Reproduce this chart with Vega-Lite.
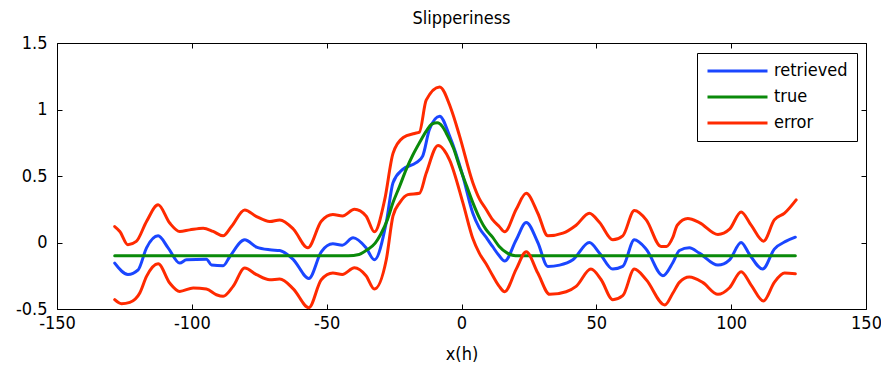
{
"$schema": "https://vega.github.io/schema/vega-lite/v6.json",
"width": 809, "height": 266,
"autosize": {"type": "none"},
"padding": {"left": 57, "top": 43, "right": 15, "bottom": 57},
"background": "white",
"config": {
  "font": "DejaVu Sans Condensed, DejaVu Sans",
  "view": {"stroke": null},
  "axis": {"domainColor": "black", "domainWidth": 1, "tickColor": "black", "tickSize": -5, "tickWidth": 1, "labelColor": "black", "labelFontSize": 18, "labelFont": "DejaVu Sans Condensed, DejaVu Sans", "titleFont": "DejaVu Sans Condensed, DejaVu Sans", "titleFontSize": 18, "titleFontWeight": "normal", "titleColor": "black", "grid": false, "labelFlush": false, "labelExpr": "toString(datum.value)"}
},
"title": {"text": "Slipperiness", "fontSize": 18, "fontWeight": "normal", "color": "black", "font": "DejaVu Sans Condensed, DejaVu Sans", "offset": 6, "anchor": "middle"},
"data": {"values": [
{"series":"retrieved","part":"r","x":-128.6,"y":-0.155},{"series":"retrieved","part":"r","x":-123.7,"y":-0.24},{"series":"retrieved","part":"r","x":-119.9,"y":-0.205},{"series":"retrieved","part":"r","x":-116.8,"y":-0.04},{"series":"retrieved","part":"r","x":-112.5,"y":0.05},{"series":"retrieved","part":"r","x":-108.8,"y":-0.04},{"series":"retrieved","part":"r","x":-104.5,"y":-0.155},{"series":"retrieved","part":"r","x":-102,"y":-0.13},{"series":"retrieved","part":"r","x":-94.6,"y":-0.125},{"series":"retrieved","part":"r","x":-92.7,"y":-0.17},{"series":"retrieved","part":"r","x":-88.4,"y":-0.175},{"series":"retrieved","part":"r","x":-85.9,"y":-0.105},{"series":"retrieved","part":"r","x":-80.4,"y":0.02},{"series":"retrieved","part":"r","x":-76,"y":-0.035},{"series":"retrieved","part":"r","x":-71.1,"y":-0.055},{"series":"retrieved","part":"r","x":-67.4,"y":-0.06},{"series":"retrieved","part":"r","x":-62.3,"y":-0.13},{"series":"retrieved","part":"r","x":-56.6,"y":-0.27},{"series":"retrieved","part":"r","x":-52,"y":-0.07},{"series":"retrieved","part":"r","x":-47.7,"y":-0.01},{"series":"retrieved","part":"r","x":-44.2,"y":-0.02},{"series":"retrieved","part":"r","x":-40.2,"y":0.035},{"series":"retrieved","part":"r","x":-35.4,"y":-0.04},{"series":"retrieved","part":"r","x":-32.3,"y":-0.13},{"series":"retrieved","part":"r","x":-27.9,"y":0.15},{"series":"retrieved","part":"r","x":-25.4,"y":0.45},{"series":"retrieved","part":"r","x":-21.8,"y":0.55},{"series":"retrieved","part":"r","x":-16.8,"y":0.6},{"series":"retrieved","part":"r","x":-14.4,"y":0.65},{"series":"retrieved","part":"r","x":-11.9,"y":0.85},{"series":"retrieved","part":"r","x":-8.1,"y":0.95},{"series":"retrieved","part":"r","x":-4.4,"y":0.8},{"series":"retrieved","part":"r","x":0.5,"y":0.5},{"series":"retrieved","part":"r","x":4.2,"y":0.22},{"series":"retrieved","part":"r","x":6.6,"y":0.11},{"series":"retrieved","part":"r","x":9.1,"y":0.04},{"series":"retrieved","part":"r","x":11.5,"y":-0.03},{"series":"retrieved","part":"r","x":14,"y":-0.1},{"series":"retrieved","part":"r","x":16,"y":-0.14},{"series":"retrieved","part":"r","x":20.3,"y":0.02},{"series":"retrieved","part":"r","x":24,"y":0.15},{"series":"retrieved","part":"r","x":28.3,"y":0},{"series":"retrieved","part":"r","x":32,"y":-0.18},{"series":"retrieved","part":"r","x":36.4,"y":-0.17},{"series":"retrieved","part":"r","x":41.3,"y":-0.13},{"series":"retrieved","part":"r","x":47.4,"y":0},{"series":"retrieved","part":"r","x":51.2,"y":-0.08},{"series":"retrieved","part":"r","x":56.1,"y":-0.2},{"series":"retrieved","part":"r","x":59.8,"y":-0.18},{"series":"retrieved","part":"r","x":64.1,"y":0.02},{"series":"retrieved","part":"r","x":68.5,"y":-0.05},{"series":"retrieved","part":"r","x":74.7,"y":-0.25},{"series":"retrieved","part":"r","x":78.4,"y":-0.15},{"series":"retrieved","part":"r","x":80.8,"y":-0.06},{"series":"retrieved","part":"r","x":84.5,"y":-0.04},{"series":"retrieved","part":"r","x":88.2,"y":-0.08},{"series":"retrieved","part":"r","x":95.1,"y":-0.17},{"series":"retrieved","part":"r","x":99.4,"y":-0.13},{"series":"retrieved","part":"r","x":103.7,"y":0},{"series":"retrieved","part":"r","x":106.8,"y":-0.09},{"series":"retrieved","part":"r","x":111.7,"y":-0.2},{"series":"retrieved","part":"r","x":116,"y":-0.05},{"series":"retrieved","part":"r","x":120.4,"y":0.01},{"series":"retrieved","part":"r","x":123.8,"y":0.04},
{"series":"true","part":"t","x":-128.6,"y":-0.1},{"series":"true","part":"t","x":-42,"y":-0.1},{"series":"true","part":"t","x":-38,"y":-0.09},{"series":"true","part":"t","x":-35,"y":-0.055},{"series":"true","part":"t","x":-32,"y":-0.005},{"series":"true","part":"t","x":-30,"y":0.06},{"series":"true","part":"t","x":-27.5,"y":0.17},{"series":"true","part":"t","x":-25.4,"y":0.3},{"series":"true","part":"t","x":-23,"y":0.42},{"series":"true","part":"t","x":-20.5,"y":0.55},{"series":"true","part":"t","x":-18,"y":0.66},{"series":"true","part":"t","x":-15.6,"y":0.75},{"series":"true","part":"t","x":-13,"y":0.84},{"series":"true","part":"t","x":-11,"y":0.89},{"series":"true","part":"t","x":-9,"y":0.9},{"series":"true","part":"t","x":-7,"y":0.87},{"series":"true","part":"t","x":-5.6,"y":0.82},{"series":"true","part":"t","x":-3,"y":0.71},{"series":"true","part":"t","x":-0.7,"y":0.57},{"series":"true","part":"t","x":2,"y":0.42},{"series":"true","part":"t","x":4.2,"y":0.3},{"series":"true","part":"t","x":7,"y":0.17},{"series":"true","part":"t","x":9,"y":0.1},{"series":"true","part":"t","x":11.5,"y":0.04},{"series":"true","part":"t","x":14,"y":-0.03},{"series":"true","part":"t","x":17,"y":-0.08},{"series":"true","part":"t","x":20,"y":-0.1},{"series":"true","part":"t","x":123.8,"y":-0.1},
{"series":"error","part":"u","x":-128.6,"y":0.12},{"series":"error","part":"u","x":-126.7,"y":0.083},{"series":"error","part":"u","x":-123.7,"y":-0.017},{"series":"error","part":"u","x":-120.6,"y":0.008},{"series":"error","part":"u","x":-116.8,"y":0.158},{"series":"error","part":"u","x":-112.5,"y":0.283},{"series":"error","part":"u","x":-108.2,"y":0.146},{"series":"error","part":"u","x":-104.5,"y":0.083},{"series":"error","part":"u","x":-100.8,"y":0.095},{"series":"error","part":"u","x":-95.8,"y":0.108},{"series":"error","part":"u","x":-92.1,"y":0.083},{"series":"error","part":"u","x":-88.4,"y":0.05},{"series":"error","part":"u","x":-85.3,"y":0.12},{"series":"error","part":"u","x":-80.4,"y":0.245},{"series":"error","part":"u","x":-76,"y":0.195},{"series":"error","part":"u","x":-71.1,"y":0.158},{"series":"error","part":"u","x":-67.4,"y":0.17},{"series":"error","part":"u","x":-62.3,"y":0.1},{"series":"error","part":"u","x":-57,"y":-0.04},{"series":"error","part":"u","x":-52,"y":0.16},{"series":"error","part":"u","x":-47.7,"y":0.21},{"series":"error","part":"u","x":-44.1,"y":0.2},{"series":"error","part":"u","x":-39.7,"y":0.25},{"series":"error","part":"u","x":-35.4,"y":0.2},{"series":"error","part":"u","x":-32.3,"y":0.08},{"series":"error","part":"u","x":-28.5,"y":0.32},{"series":"error","part":"u","x":-25.4,"y":0.67},{"series":"error","part":"u","x":-21.6,"y":0.79},{"series":"error","part":"u","x":-17.4,"y":0.82},{"series":"error","part":"u","x":-15.6,"y":0.83},{"series":"error","part":"u","x":-13.1,"y":1.07},{"series":"error","part":"u","x":-8.1,"y":1.17},{"series":"error","part":"u","x":-3.8,"y":1.0},{"series":"error","part":"u","x":-0.7,"y":0.8},{"series":"error","part":"u","x":4.2,"y":0.45},{"series":"error","part":"u","x":6.6,"y":0.33},{"series":"error","part":"u","x":9.1,"y":0.25},{"series":"error","part":"u","x":11.6,"y":0.17},{"series":"error","part":"u","x":14,"y":0.12},{"series":"error","part":"u","x":16,"y":0.08},{"series":"error","part":"u","x":20.3,"y":0.25},{"series":"error","part":"u","x":24,"y":0.37},{"series":"error","part":"u","x":28.3,"y":0.22},{"series":"error","part":"u","x":32,"y":0.05},{"series":"error","part":"u","x":37.6,"y":0.07},{"series":"error","part":"u","x":42.5,"y":0.13},{"series":"error","part":"u","x":47.4,"y":0.22},{"series":"error","part":"u","x":51.2,"y":0.15},{"series":"error","part":"u","x":56.1,"y":0.02},{"series":"error","part":"u","x":59.8,"y":0.05},{"series":"error","part":"u","x":64.1,"y":0.24},{"series":"error","part":"u","x":68.5,"y":0.17},{"series":"error","part":"u","x":74,"y":-0.03},{"series":"error","part":"u","x":76,"y":-0.03},{"series":"error","part":"u","x":78.4,"y":0.04},{"series":"error","part":"u","x":80,"y":0.13},{"series":"error","part":"u","x":83.9,"y":0.18},{"series":"error","part":"u","x":88.2,"y":0.15},{"series":"error","part":"u","x":95.1,"y":0.06},{"series":"error","part":"u","x":99.4,"y":0.1},{"series":"error","part":"u","x":103.7,"y":0.23},{"series":"error","part":"u","x":107.4,"y":0.13},{"series":"error","part":"u","x":112,"y":0.01},{"series":"error","part":"u","x":116,"y":0.17},{"series":"error","part":"u","x":119.8,"y":0.22},{"series":"error","part":"u","x":124.1,"y":0.32},
{"series":"error","part":"l","x":-128.6,"y":-0.43},{"series":"error","part":"l","x":-126.1,"y":-0.46},{"series":"error","part":"l","x":-123,"y":-0.45},{"series":"error","part":"l","x":-119.3,"y":-0.38},{"series":"error","part":"l","x":-116.8,"y":-0.255},{"series":"error","part":"l","x":-112.5,"y":-0.16},{"series":"error","part":"l","x":-108.2,"y":-0.305},{"series":"error","part":"l","x":-104.5,"y":-0.368},{"series":"error","part":"l","x":-99.5,"y":-0.342},{"series":"error","part":"l","x":-94.6,"y":-0.35},{"series":"error","part":"l","x":-90.9,"y":-0.393},{"series":"error","part":"l","x":-88.4,"y":-0.405},{"series":"error","part":"l","x":-84.7,"y":-0.33},{"series":"error","part":"l","x":-80.4,"y":-0.192},{"series":"error","part":"l","x":-76,"y":-0.242},{"series":"error","part":"l","x":-71.1,"y":-0.28},{"series":"error","part":"l","x":-67.4,"y":-0.275},{"series":"error","part":"l","x":-62.3,"y":-0.35},{"series":"error","part":"l","x":-56.6,"y":-0.49},{"series":"error","part":"l","x":-52,"y":-0.28},{"series":"error","part":"l","x":-47.7,"y":-0.23},{"series":"error","part":"l","x":-44.2,"y":-0.24},{"series":"error","part":"l","x":-39.7,"y":-0.19},{"series":"error","part":"l","x":-35.4,"y":-0.25},{"series":"error","part":"l","x":-32.3,"y":-0.35},{"series":"error","part":"l","x":-27.9,"y":-0.13},{"series":"error","part":"l","x":-25.4,"y":0.2},{"series":"error","part":"l","x":-22.9,"y":0.3},{"series":"error","part":"l","x":-19.9,"y":0.36},{"series":"error","part":"l","x":-15.6,"y":0.37},{"series":"error","part":"l","x":-13.1,"y":0.52},{"series":"error","part":"l","x":-8.7,"y":0.73},{"series":"error","part":"l","x":-4.4,"y":0.62},{"series":"error","part":"l","x":0.5,"y":0.3},{"series":"error","part":"l","x":4.2,"y":0.03},{"series":"error","part":"l","x":6.6,"y":-0.08},{"series":"error","part":"l","x":9.1,"y":-0.16},{"series":"error","part":"l","x":11.6,"y":-0.25},{"series":"error","part":"l","x":14,"y":-0.33},{"series":"error","part":"l","x":16,"y":-0.37},{"series":"error","part":"l","x":20.3,"y":-0.2},{"series":"error","part":"l","x":24,"y":-0.07},{"series":"error","part":"l","x":28.3,"y":-0.23},{"series":"error","part":"l","x":32.7,"y":-0.39},{"series":"error","part":"l","x":38.8,"y":-0.37},{"series":"error","part":"l","x":42.5,"y":-0.33},{"series":"error","part":"l","x":48,"y":-0.2},{"series":"error","part":"l","x":51.8,"y":-0.28},{"series":"error","part":"l","x":56.1,"y":-0.43},{"series":"error","part":"l","x":59.8,"y":-0.4},{"series":"error","part":"l","x":64.1,"y":-0.2},{"series":"error","part":"l","x":68.5,"y":-0.28},{"series":"error","part":"l","x":75.4,"y":-0.47},{"series":"error","part":"l","x":78.4,"y":-0.38},{"series":"error","part":"l","x":80.8,"y":-0.3},{"series":"error","part":"l","x":84.5,"y":-0.26},{"series":"error","part":"l","x":89.4,"y":-0.3},{"series":"error","part":"l","x":95.1,"y":-0.39},{"series":"error","part":"l","x":99.4,"y":-0.34},{"series":"error","part":"l","x":103.7,"y":-0.22},{"series":"error","part":"l","x":107.4,"y":-0.32},{"series":"error","part":"l","x":112,"y":-0.44},{"series":"error","part":"l","x":116,"y":-0.3},{"series":"error","part":"l","x":119.8,"y":-0.23},{"series":"error","part":"l","x":123.8,"y":-0.235}
]},
"layer": [
  {
    "mark": {"type": "line", "strokeWidth": 3, "strokeJoin": "round", "strokeCap": "round", "interpolate": "monotone"},
    "encoding": {
      "x": {"field": "x", "type": "quantitative", "scale": {"domain": [-150, 150], "nice": false, "zero": false},
            "axis": {"orient": "bottom", "values": [-150, -100, -50, 0, 50, 100, 150], "title": "x(h)", "labelPadding": 10, "titlePadding": 13}},
      "y": {"field": "y", "type": "quantitative", "scale": {"domain": [-0.5, 1.5], "nice": false, "zero": false},
            "axis": {"orient": "left", "values": [-0.5, 0, 0.5, 1, 1.5], "title": null, "labelPadding": 15}},
      "color": {"field": "series", "type": "nominal",
                "scale": {"domain": ["retrieved", "true", "error"], "range": ["#1a46ff", "#0a8a0a", "#ff2a00"]},
                "legend": {"orient": "none", "legendX": 640, "legendY": 10, "title": null, "symbolType": "stroke", "symbolSize": 3600, "symbolStrokeWidth": 3, "clipHeight": 18, "labelFontSize": 18, "labelColor": "black", "labelFont": "DejaVu Sans Condensed, DejaVu Sans", "strokeColor": "black", "fillColor": "white", "padding": 9, "rowPadding": 8, "labelOffset": 5}},
      "detail": {"field": "part", "type": "nominal"}
    }
  },
  {
    "mark": {"type": "point", "opacity": 0},
    "encoding": {
      "x": {"field": "x", "type": "quantitative", "scale": {"domain": [-150, 150], "nice": false, "zero": false},
            "axis": {"orient": "top", "values": [-150, -100, -50, 0, 50, 100, 150], "title": null, "labels": false}},
      "y": {"field": "y", "type": "quantitative", "scale": {"domain": [-0.5, 1.5], "nice": false, "zero": false},
            "axis": {"orient": "right", "values": [-0.5, 0, 0.5, 1, 1.5], "title": null, "labels": false}}
    }
  }
],
"resolve": {"axis": {"x": "independent", "y": "independent"}}
}
